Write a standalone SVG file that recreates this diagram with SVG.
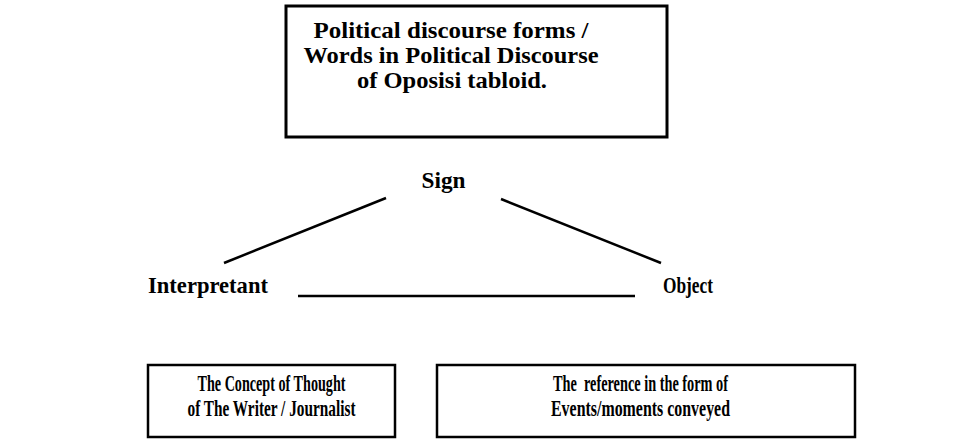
<svg xmlns="http://www.w3.org/2000/svg" width="959" height="440" viewBox="0 0 959 440">
<style>
  .box { fill: #ffffff; stroke: #000000; stroke-width: 2.5; }
  .t { font-family: "Liberation Serif", "Times New Roman", serif; font-weight: bold; fill: #000000; }
  .big { font-size: 24px; }
  .lbl { font-size: 23px; }
  .sm { font-size: 23px; }
  .ln { stroke: #000000; stroke-width: 2.5; fill: none; stroke-linecap: butt; }
</style>
<rect width="959" height="440" fill="#ffffff"/>
<g id="node-sign-box">
  <rect class="box" x="286" y="6" width="381" height="131" style="stroke-width:3"/>
  <text class="t big" x="451" y="38" text-anchor="middle" textLength="275" lengthAdjust="spacingAndGlyphs">Political discourse forms /</text>
  <text class="t big" x="451" y="63" text-anchor="middle" textLength="295" lengthAdjust="spacingAndGlyphs">Words in Political Discourse</text>
  <text class="t big" x="452" y="88" text-anchor="middle" textLength="190" lengthAdjust="spacingAndGlyphs">of Oposisi tabloid.</text>
</g>
<g id="node-sign">
  <text class="t lbl" x="443.5" y="188" text-anchor="middle" textLength="44" lengthAdjust="spacingAndGlyphs">Sign</text>
</g>
<g id="node-interpretant">
  <text class="t lbl" x="148" y="293" textLength="120" lengthAdjust="spacingAndGlyphs">Interpretant</text>
</g>
<g id="node-object">
  <text class="t lbl" x="663" y="293" textLength="50" lengthAdjust="spacingAndGlyphs">Object</text>
</g>
<g id="node-interpretant-box">
  <rect class="box" x="148" y="365" width="247" height="72"/>
  <text class="t sm" x="271.5" y="391" text-anchor="middle" textLength="148" lengthAdjust="spacingAndGlyphs">The Concept of Thought</text>
  <text class="t sm" x="271.5" y="416" text-anchor="middle" textLength="168" lengthAdjust="spacingAndGlyphs">of The Writer / Journalist</text>
</g>
<g id="node-object-box">
  <rect class="box" x="437" y="365" width="418" height="72"/>
  <text class="t sm" x="640.5" y="391" text-anchor="middle" textLength="175" lengthAdjust="spacingAndGlyphs" xml:space="preserve">The  reference in the form of</text>
  <text class="t sm" x="640.5" y="416" text-anchor="middle" textLength="179" lengthAdjust="spacingAndGlyphs">Events/moments conveyed</text>
</g>
<g id="connectors">
  <line class="ln" x1="386" y1="198" x2="224" y2="263"/>
  <line class="ln" x1="501" y1="199" x2="661" y2="263"/>
  <line class="ln" x1="298" y1="296" x2="635" y2="296"/>
</g>
</svg>
